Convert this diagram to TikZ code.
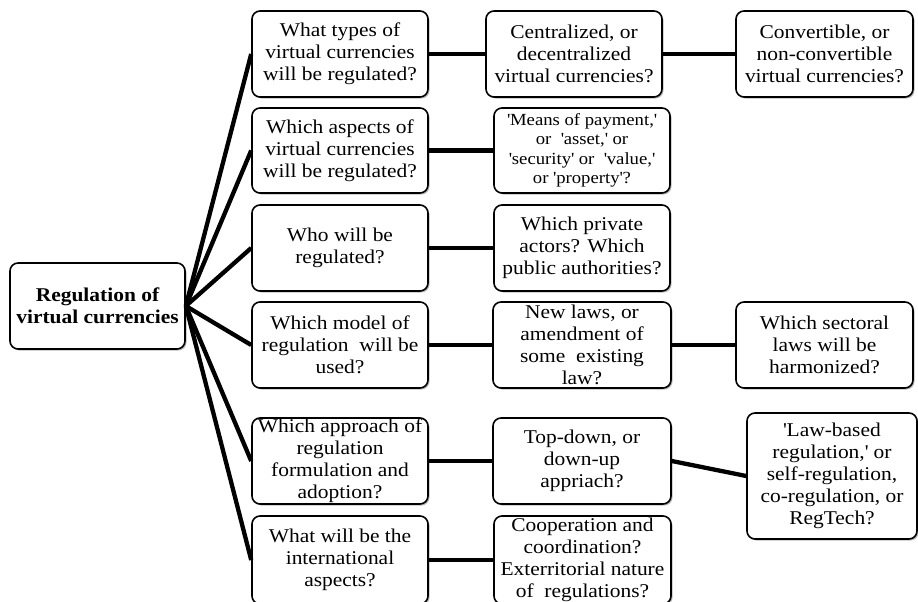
\documentclass[tikz,border=0pt]{standalone}
\usepackage{fontspec}
\setmainfont{Liberation Serif}[FakeStretch=1.1]
\usetikzlibrary{shadows}
\newcommand{\qq}{\textquotesingle}
\tikzset{
  qbox/.style={draw=black, line width=1.6pt, rounded corners=8pt, fill=white,
    align=center, inner sep=0pt, minimum height=86pt,
    font=\fontsize{19.5pt}{22pt}\selectfont,
    drop shadow={shadow xshift=1.5pt, shadow yshift=-1.5pt, fill=black!45, opacity=0.6}},
  conn/.style={line width=4.3pt, black},
}
\begin{document}
\begin{tikzpicture}[x=1pt,y=-1pt]
\useasboundingbox (0,0) rectangle (918,602);
\clip (0,0) rectangle (918,602);
% root
\node[qbox, minimum width=175pt, font=\fontsize{19.5pt}{22pt}\selectfont\bfseries] (root) at (97.5,306) {Regulation of\\virtual currencies};
% column A
\node[qbox, minimum width=176pt] (A1) at (340,54) {What types of\\virtual currencies\\will be regulated?};
\node[qbox, minimum width=176pt, minimum height=85pt] (A2) at (340,150.5) {Which aspects of\\virtual currencies\\will be regulated?};
\node[qbox, minimum width=176pt] (A3) at (340,248) {Who will be\\regulated?};
\node[qbox, minimum width=176pt] (A4) at (340,345) {Which model of\\regulation\ \ will be\\used?};
\node[qbox, minimum width=176pt] (A5) at (340,461) {Which approach of\\regulation\\formulation and\\adoption?};
\node[qbox, minimum width=176pt, minimum height=88pt] (A6) at (340,560) {What will be the\\international\\aspects?};
% column B
\node[qbox, minimum width=176pt] (B1) at (574,54) {Centralized, or\\decentralized\\virtual currencies?};
\node[qbox, minimum width=176pt, minimum height=85pt, font=\fontsize{17pt}{19.5pt}\selectfont] (B2) at (582,150.5) {\qq Means of payment,\qq\\or\ \ \qq asset,\qq\ or\\\qq security\qq\ or\ \ \qq value,\qq\\or \qq property\qq ?};
\node[qbox, minimum width=176pt] (B3) at (582,248) {Which private\\actors? Which\\public authorities?};
\node[qbox, minimum width=178pt] (B4) at (582,345) {New laws, or\\amendment of\\some\ \ existing\\law?};
\node[qbox, minimum width=178pt] (B5) at (582,461) {Top-down, or\\down-up\\appriach?};
\node[qbox, minimum width=177pt, minimum height=88pt] (B6) at (582.5,560) {Cooperation and\\coordination?\\Exterritorial nature\\of\ \ regulations?};
% column C
\node[qbox, minimum width=177pt] (C1) at (824.5,54) {Convertible, or\\non-convertible\\virtual currencies?};
\node[qbox, minimum width=177pt] (C4) at (824.5,345) {Which sectoral\\laws will be\\harmonized?};
\node[qbox, minimum width=170pt, minimum height=126pt] (C5) at (832,476) {\qq Law-based\\regulation,\qq\ or\\self-regulation,\\co-regulation, or\\RegTech?};
% connectors
\foreach \n in {A1,A2,A3,A4,A5,A6} {\draw[conn] (root.east) -- (\n.west);}
\draw[conn] (A1) -- (B1);
\draw[conn] (A2.east) -- (B2.west);
\draw[conn] (A3.east) -- (B3.west);
\draw[conn] (A4.east) -- (B4.west);
\draw[conn] (A5.east) -- (B5.west);
\draw[conn] (A6.east) -- (B6.west);
\draw[conn] (B1.east) -- (C1.west);
\draw[conn] (B4.east) -- (C4.west);
\draw[conn] (B5.east) -- (C5.west);
\end{tikzpicture}
\end{document}
